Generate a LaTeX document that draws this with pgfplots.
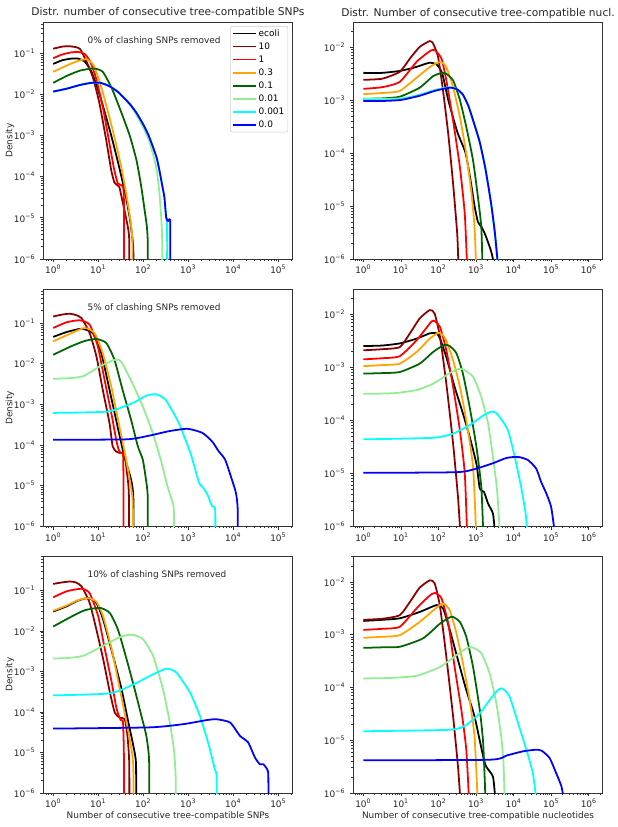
\documentclass[border=0pt]{standalone}
\usepackage{fontspec}
\setmainfont{DejaVu Sans}
\usepackage{pgfplots}
\pgfplotsset{compat=1.18}
\definecolor{dred}{HTML}{8B0000}
\definecolor{org}{HTML}{FFA500}
\definecolor{dgreen}{HTML}{006400}
\definecolor{lgreen}{HTML}{90EE90}
\definecolor{cyn}{HTML}{00FFFF}
\definecolor{blu}{HTML}{0000FF}
\newcommand\tsz{\fontsize{6.7pt}{8pt}\selectfont}
\newcommand\ttl{\fontsize{8pt}{9.6pt}\selectfont}
\newcommand\tenp[1]{10\textsuperscript{#1}}
\pgfplotsset{every axis/.append style={
  scale only axis, width=187pt, height=177.75pt, ymin=1e-6,
  axis line style={black!80, line width=0.55pt},
  tick align=outside, xtick pos=bottom, ytick pos=left,
  major tick length=2.6pt, minor tick length=1.5pt,
  tick style={black!80, line width=0.55pt},
  tick label style={font=\tsz, text=black!85},
  xticklabel style={yshift=1.5pt},
  title style={font=\ttl, at={(0.5,1)}, anchor=base, yshift=-1.5pt, inner sep=0pt, text=black!85},
  ylabel style={font=\tsz, at={(axis description cs:-0.134,0.5)}, anchor=center, text=black!85},
  xlabel style={font=\tsz, at={(axis description cs:0.5,0)}, anchor=center, yshift=-17pt, text=black!85},
 },
 every axis plot/.append style={line width=1.33pt, line join=round, mark=none, smooth, tension=0.35},
}
\begin{document}
\begin{tikzpicture}
\useasboundingbox (0,0) rectangle (462.75pt,-620.25pt);
% ---------------- Panel A ----------------
\begin{loglogaxis}[at={(32.5pt,-16.5pt)}, anchor=north west, ymax=0.575,
  xmin=0.603, xmax=2.09e5,
  xtick={1,10,100,1000,10000,100000},
  xticklabels={\tenp{0},\tenp{1},\tenp{2},\tenp{3},\tenp{4},\tenp{5}},
  minor xtick={0.7,0.8,0.9,2,3,4,5,6,7,8,9,20,30,40,50,60,70,80,90,200,300,400,500,600,700,800,900,2000,3000,4000,5000,6000,7000,8000,9000,20000,30000,40000,50000,60000,70000,80000,90000,200000},
  ytick={1e-6,1e-5,1e-4,1e-3,1e-2,1e-1},
  yticklabels={\tenp{−6},\tenp{−5},\tenp{−4},\tenp{−3},\tenp{−2},\tenp{−1}},
  minor ytick={2e-6,3e-6,4e-6,5e-6,6e-6,7e-6,8e-6,9e-6,2e-5,3e-5,4e-5,5e-5,6e-5,7e-5,8e-5,9e-5,2e-4,3e-4,4e-4,5e-4,6e-4,7e-4,8e-4,9e-4,2e-3,3e-3,4e-3,5e-3,6e-3,7e-3,8e-3,9e-3,2e-2,3e-2,4e-2,5e-2,6e-2,7e-2,8e-2,9e-2,2e-1,3e-1,4e-1,5e-1},
  ylabel={Density},
  title={Distr. number of consecutive tree-compatible SNPs},
  legend cell align=left,
  legend style={at={(0.982,0.983)}, anchor=north east, draw=black!20, fill=white, rounded corners=1.5pt,
    font=\tsz, inner xsep=1.5pt, inner ysep=1.2pt, row sep=1.5pt,
    nodes={inner sep=1.2pt, text height=4.9pt, text depth=1pt}},
]
\addplot[black] coordinates {(1,5.50e-2)(1.585,6.76e-2)(2.51,7.41e-2)(3.55,7.41e-2)(5.01,6.31e-2)(7.08,3.55e-2)(10,1.26e-2)(14.1,3.55e-3)(20,8.91e-4)(28.2,2.00e-4)(39.8,3.98e-5)(50.1,1e-5)(57.5,3.16e-6)(60.3,1.58e-6)(60.3,1e-7)};
\addplot[dred] coordinates {(1,1.29e-1)(1.585,1.45e-1)(2.29,1.48e-1)(3.16,1.41e-1)(3.98,1.26e-1)(5.37,6.61e-2)(7.59,2.63e-2)(10.7,5.89e-3)(15.1,7.59e-4)(19.5,1.41e-4)(22.9,7.24e-5)(26.3,6.31e-5)(29.5,5.62e-5)(33.1,3.16e-5)(39.8,1.26e-5)(46.8,5.01e-6)(49,2.51e-6)(49,1e-7)};
\addplot[red] coordinates {(1,7.59e-2)(1.585,9.33e-2)(2.51,1.05e-1)(3.63,1.07e-1)(5.01,9.55e-2)(6.61,6.31e-2)(8.91,2.51e-2)(12.6,5.01e-3)(17.8,6.31e-4)(22.4,1.58e-4)(26.9,7.08e-5)(31.6,6.31e-5)(35.5,5.62e-5)(37.2,2.51e-5)(37.2,1e-7)};
\addplot[org] coordinates {(1,3.55e-2)(1.585,4.47e-2)(2.51,5.62e-2)(3.98,6.76e-2)(5.62,7.08e-2)(7.94,5.01e-2)(11.2,1.78e-2)(15.8,4.47e-3)(22.4,1e-3)(31.6,2e-4)(41.7,3.98e-5)(52.5,7.94e-6)(57.5,2.51e-6)(57.5,1e-7)};
\addplot[dgreen] coordinates {(1,1.91e-2)(2,2.82e-2)(3.98,3.80e-2)(7.94,4.27e-2)(12.6,3.55e-2)(20,1.41e-2)(31.6,3.98e-3)(50.1,1e-3)(70.8,2.51e-4)(89.1,6.31e-5)(107,1.58e-5)(120,6.31e-6)(126,2.51e-6)(126,1e-7)};
\addplot[lgreen] coordinates {(1,1.17e-2)(2,1.38e-2)(3.98,1.70e-2)(7.08,1.91e-2)(11.2,1.91e-2)(17.8,1.58e-2)(28.2,1.12e-2)(50.1,5.62e-3)(70.8,3.16e-3)(100,1.58e-3)(132,7.94e-4)(166,3.55e-4)(200,1.41e-4)(229,3.98e-5)(251,1e-5)(263,3.16e-6)(263,1e-7)};
\addplot[cyn] coordinates {(1,1.17e-2)(2,1.38e-2)(3.98,1.70e-2)(7.08,1.91e-2)(11.2,1.91e-2)(17.8,1.58e-2)(28.2,1.12e-2)(50.1,5.89e-3)(70.8,3.55e-3)(100,1.86e-3)(132,1e-3)(166,5.13e-4)(200,2.82e-4)(229,1.41e-4)(263,6.31e-5)(295,3.16e-5)(324,1e-5)(339,7.94e-6)(339,1e-7)};
\addplot[blu] coordinates {(1,1.17e-2)(2,1.38e-2)(3.98,1.70e-2)(7.08,1.91e-2)(11.2,1.91e-2)(17.8,1.58e-2)(28.2,1.12e-2)(50.1,5.89e-3)(70.8,3.55e-3)(100,1.86e-3)(132,1e-3)(166,5.13e-4)(200,2.82e-4)(229,1.41e-4)(263,6.31e-5)(295,3.16e-5)(324,1e-5)(355,8.32e-6)(398,7.59e-6)(398,1e-7)};
\legend{ecoli,10,1,0.3,0.1,0.01,0.001,0.0}
\node[anchor=base west, font=\tsz, inner sep=0pt, text=black!85] at (rel axis cs:0.1765,0.909) {0\% of clashing SNPs removed};
\end{loglogaxis}
% ---------------- Panel B ----------------
\begin{loglogaxis}[at={(265pt,-16.5pt)}, anchor=north west, ymax=2.95e-2,
  xmin=0.543, xmax=2.34e6,
  xtick={1,10,100,1000,10000,100000,1000000},
  xticklabels={\tenp{0},\tenp{1},\tenp{2},\tenp{3},\tenp{4},\tenp{5},\tenp{6}},
  minor xtick={0.6,0.7,0.8,0.9,2,3,4,5,6,7,8,9,20,30,40,50,60,70,80,90,200,300,400,500,600,700,800,900,2000,3000,4000,5000,6000,7000,8000,9000,20000,30000,40000,50000,60000,70000,80000,90000,200000,300000,400000,500000,600000,700000,800000,900000,2000000},
  ytick={1e-6,1e-5,1e-4,1e-3,1e-2},
  yticklabels={\tenp{−6},\tenp{−5},\tenp{−4},\tenp{−3},\tenp{−2}},
  minor ytick={2e-6,3e-6,4e-6,5e-6,6e-6,7e-6,8e-6,9e-6,2e-5,3e-5,4e-5,5e-5,6e-5,7e-5,8e-5,9e-5,2e-4,3e-4,4e-4,5e-4,6e-4,7e-4,8e-4,9e-4,2e-3,3e-3,4e-3,5e-3,6e-3,7e-3,8e-3,9e-3,2e-2},
  title={Distr. Number of consecutive tree-compatible nucl.}]
\addplot[black] coordinates {(1,3.24e-3)(3.16,3.24e-3)(10,3.55e-3)(25.1,4.17e-3)(56.2,5.01e-3)(89.1,4.68e-3)(126,3.16e-3)(182,1e-3)(316,2.51e-4)(525,1e-4)(708,3.16e-5)(912,1e-5)(1122,5.01e-6)(1413,3.98e-6)(1778,2.82e-6)(2512,1.41e-6)(3020,7.94e-7)};
\addplot[dred] coordinates {(1,2.40e-3)(3.16,2.51e-3)(9.33,3.39e-3)(17.4,6.03e-3)(31.6,1e-2)(58.9,1.29e-2)(72.4,1.15e-2)(97.7,6.46e-3)(132,1.51e-3)(182,2.29e-4)(245,2.63e-5)(316,2.95e-6)(339,7.94e-7)};
\addplot[red] coordinates {(1,1.62e-3)(3.16,1.74e-3)(9.33,2.19e-3)(26.3,5.25e-3)(58.9,8.32e-3)(79.4,8.71e-3)(120,6.03e-3)(162,2.34e-3)(245,4.07e-4)(372,5.37e-5)(501,7.08e-6)(575,7.94e-7)};
\addplot[org] coordinates {(1,1.29e-3)(3.16,1.35e-3)(9.33,1.48e-3)(26.3,2.63e-3)(58.9,4.17e-3)(100,5.13e-3)(126,5.01e-3)(162,4.17e-3)(245,1.74e-3)(372,4.79e-4)(550,9.55e-5)(759,1.70e-5)(912,3.98e-6)(1000,7.94e-7)};
\addplot[dgreen] coordinates {(1,1.05e-3)(3.16,1.07e-3)(9.33,1.15e-3)(31.6,1.70e-3)(72.4,2.82e-3)(126,3.24e-3)(158,3.16e-3)(245,2.34e-3)(372,1e-3)(550,3.09e-4)(832,7.24e-5)(1122,1.48e-5)(1380,3.98e-6)(1479,7.94e-7)};
\addplot[lgreen] coordinates {(1,1.05e-3)(3.16,1.05e-3)(10,1.07e-3)(31.6,1.26e-3)(79.4,1.55e-3)(158,1.70e-3)(224,1.74e-3)(316,1.58e-3)(447,1.26e-3)(631,7.59e-4)(891,3.55e-4)(1259,1.58e-4)(1778,5.01e-5)(2512,1.12e-5)(3162,3.16e-6)(3802,7.94e-7)};
\addplot[cyn] coordinates {(1,1.0e-3)(3.16,1.0e-3)(10,1.03e-3)(31.6,1.23e-3)(79.4,1.51e-3)(158,1.68e-3)(224,1.72e-3)(316,1.58e-3)(447,1.26e-3)(631,7.59e-4)(891,3.55e-4)(1259,1.58e-4)(1778,5.01e-5)(2512,1.12e-5)(3162,3.16e-6)(3802,7.94e-7)};
\addplot[blu] coordinates {(1,9.55e-4)(3.16,9.55e-4)(10,1e-3)(31.6,1.20e-3)(79.4,1.48e-3)(158,1.66e-3)(224,1.70e-3)(316,1.58e-3)(447,1.26e-3)(631,7.59e-4)(891,3.55e-4)(1259,1.58e-4)(1778,5.01e-5)(2512,1.12e-5)(3162,3.16e-6)(3802,7.94e-7)};
\end{loglogaxis}
% ---------------- Panel C ----------------
\begin{loglogaxis}[at={(32.5pt,-217pt)}, anchor=north west, ymax=0.676,
  xmin=0.603, xmax=2.09e5,
  xtick={1,10,100,1000,10000,100000},
  xticklabels={\tenp{0},\tenp{1},\tenp{2},\tenp{3},\tenp{4},\tenp{5}},
  minor xtick={0.7,0.8,0.9,2,3,4,5,6,7,8,9,20,30,40,50,60,70,80,90,200,300,400,500,600,700,800,900,2000,3000,4000,5000,6000,7000,8000,9000,20000,30000,40000,50000,60000,70000,80000,90000,200000},
  ytick={1e-6,1e-5,1e-4,1e-3,1e-2,1e-1},
  yticklabels={\tenp{−6},\tenp{−5},\tenp{−4},\tenp{−3},\tenp{−2},\tenp{−1}},
  minor ytick={2e-6,3e-6,4e-6,5e-6,6e-6,7e-6,8e-6,9e-6,2e-5,3e-5,4e-5,5e-5,6e-5,7e-5,8e-5,9e-5,2e-4,3e-4,4e-4,5e-4,6e-4,7e-4,8e-4,9e-4,2e-3,3e-3,4e-3,5e-3,6e-3,7e-3,8e-3,9e-3,2e-2,3e-2,4e-2,5e-2,6e-2,7e-2,8e-2,9e-2,2e-1,3e-1,4e-1,5e-1,6e-1},
  ylabel={Density}]
\addplot[black] coordinates {(1,4.57e-2)(2,6.03e-2)(4.27,7.24e-2)(7.59,5.62e-2)(11.7,1.82e-2)(17.8,2.29e-3)(26.9,2.88e-4)(38,5.25e-5)(53.7,1.41e-5)(60.3,5.01e-6)(60.3,1e-7)};
\addplot[dred] coordinates {(1,1.45e-1)(1.585,1.62e-1)(2.34,1.70e-1)(3.16,1.58e-1)(4.27,1.32e-1)(6.46,5.62e-2)(9.12,1.51e-2)(12.6,2.29e-3)(17.8,3.47e-4)(20.9,9.33e-5)(25.1,6.92e-5)(31.6,6.31e-5)(38,6.31e-5)(42.7,2.51e-5)(47.9,6.31e-6)(47.9,1e-7)};
\addplot[red] coordinates {(1,7.59e-2)(2,1.05e-1)(3.89,1.17e-1)(6.46,9.12e-2)(9.77,2.69e-2)(13.8,4.07e-3)(19.5,6.17e-4)(25.1,1.35e-4)(28.2,7.94e-5)(31.6,6.31e-5)(35.5,6.03e-5)(36.3,1.58e-5)(36.3,1e-7)};
\addplot[org] coordinates {(1,3.55e-2)(2,5.01e-2)(5.01,7.59e-2)(8.32,5.62e-2)(12.6,1.82e-2)(19.5,2.75e-3)(29.5,2.88e-4)(41.7,4.37e-5)(56.2,6.61e-6)(58.9,2.51e-6)(58.9,1e-7)};
\addplot[dgreen] coordinates {(1,1.66e-2)(2.51,2.69e-2)(5.01,3.63e-2)(9.12,4.07e-2)(15.1,3.24e-2)(22.9,1.26e-2)(34.7,2.29e-3)(53.7,4.17e-4)(75.9,9.33e-5)(97.7,4.37e-5)(115,1.41e-5)(126,5.01e-6)(126,1e-7)};
\addplot[lgreen] coordinates {(1,4.27e-3)(2,4.37e-3)(4.57,4.90e-3)(10.7,8.51e-3)(20.9,1.20e-2)(28.2,1.26e-2)(34.7,1e-2)(57.5,3.31e-3)(97.7,8.91e-4)(162,2.00e-4)(245,4.37e-5)(347,9.55e-6)(427,4.57e-6)(479,2.51e-6)(479,1e-7)};
\addplot[cyn] coordinates {(1,6.17e-4)(3.98,6.31e-4)(17.8,6.76e-4)(57.5,1.07e-3)(115,1.62e-3)(191,1.78e-3)(316,1.29e-3)(617,3.47e-4)(1122,6.31e-5)(1738,1.17e-5)(2042,9.55e-6)(2630,6.31e-6)(3388,3.09e-6)(3981,2.51e-6)(3981,1e-7)};
\addplot[blu] coordinates {(1,1.35e-4)(41.7,1.38e-4)(135,1.70e-4)(372,2.19e-4)(955,2.51e-4)(2042,2.00e-4)(3388,1.23e-4)(4786,6.92e-5)(6607,4.37e-5)(9333,1.41e-5)(11482,6.61e-6)(12589,2.51e-6)(12589,1e-7)};
\node[anchor=base west, font=\tsz, inner sep=0pt, text=black!85] at (rel axis cs:0.1765,0.909) {5\% of clashing SNPs removed};
\end{loglogaxis}
% ---------------- Panel D ----------------
\begin{loglogaxis}[at={(265pt,-217pt)}, anchor=north west, ymax=2.95e-2,
  xmin=0.543, xmax=2.34e6,
  xtick={1,10,100,1000,10000,100000,1000000},
  xticklabels={\tenp{0},\tenp{1},\tenp{2},\tenp{3},\tenp{4},\tenp{5},\tenp{6}},
  minor xtick={0.6,0.7,0.8,0.9,2,3,4,5,6,7,8,9,20,30,40,50,60,70,80,90,200,300,400,500,600,700,800,900,2000,3000,4000,5000,6000,7000,8000,9000,20000,30000,40000,50000,60000,70000,80000,90000,200000,300000,400000,500000,600000,700000,800000,900000,2000000},
  ytick={1e-6,1e-5,1e-4,1e-3,1e-2},
  yticklabels={\tenp{−6},\tenp{−5},\tenp{−4},\tenp{−3},\tenp{−2}},
  minor ytick={2e-6,3e-6,4e-6,5e-6,6e-6,7e-6,8e-6,9e-6,2e-5,3e-5,4e-5,5e-5,6e-5,7e-5,8e-5,9e-5,2e-4,3e-4,4e-4,5e-4,6e-4,7e-4,8e-4,9e-4,2e-3,3e-3,4e-3,5e-3,6e-3,7e-3,8e-3,9e-3,2e-2}]
\addplot[black] coordinates {(1,2.51e-3)(3.16,2.57e-3)(9.33,2.82e-3)(26.3,3.47e-3)(58.9,4.37e-3)(89.1,4.37e-3)(110,3.47e-3)(162,1.55e-3)(269,4.27e-4)(447,1.35e-4)(676,4.90e-5)(1023,1.51e-5)(1259,5.13e-6)(1622,4.47e-6)(2089,2.69e-6)(2818,1.74e-6)(3162,7.94e-7)};
\addplot[dred] coordinates {(1,2.09e-3)(3.16,2.19e-3)(9.33,2.40e-3)(17.4,4.37e-3)(31.6,8.32e-3)(58.9,1.20e-2)(79.4,1.02e-2)(110,3.72e-3)(162,4.90e-4)(245,3.63e-5)(331,3.55e-6)(380,7.94e-7)};
\addplot[red] coordinates {(1,1.41e-3)(3.16,1.48e-3)(9.33,1.62e-3)(26.3,3.24e-3)(64.6,7.24e-3)(79.4,7.41e-3)(110,5.75e-3)(162,2.09e-3)(245,4.27e-4)(372,6.46e-5)(501,1e-5)(575,7.94e-7)};
\addplot[org] coordinates {(1,1.05e-3)(3.16,1.10e-3)(9.33,1.17e-3)(26.3,1.95e-3)(58.9,3.47e-3)(100,4.47e-3)(126,4.17e-3)(162,3.16e-3)(245,1.35e-3)(372,4.27e-4)(550,1e-4)(832,1.32e-5)(1000,7.94e-7)};
\addplot[dgreen] coordinates {(1,7.59e-4)(3.16,7.76e-4)(9.33,8.13e-4)(31.6,1.17e-3)(72.4,1.95e-3)(141,2.63e-3)(200,2.51e-3)(302,1.82e-3)(447,7.59e-4)(676,1.78e-4)(1023,3.16e-5)(1380,5.50e-6)(1549,7.94e-7)};
\addplot[lgreen] coordinates {(1,3.16e-4)(6.31,3.24e-4)(26.3,3.72e-4)(72.4,4.90e-4)(162,7.08e-4)(302,9.12e-4)(447,9.12e-4)(832,6.61e-4)(1380,2.75e-4)(2089,8.71e-5)(2818,2.04e-5)(3631,4.79e-6)(4266,7.94e-7)};
\addplot[cyn] coordinates {(1,4.37e-5)(72.4,4.68e-5)(245,5.62e-5)(676,8.13e-5)(1549,1.23e-4)(2512,1.45e-4)(3311,1.41e-4)(4266,1.15e-4)(7079,6.46e-5)(10715,2.04e-5)(15849,5.50e-6)(20893,1.74e-6)(22909,7.94e-7)};
\addplot[blu] coordinates {(1,1.02e-5)(302,1.05e-5)(1023,1.23e-5)(2818,1.55e-5)(6457,1.95e-5)(13183,2.04e-5)(23988,1.78e-5)(39811,1.23e-5)(53703,6.92e-6)(74131,4.17e-6)(100000,2.29e-6)(123027,7.94e-7)};
\end{loglogaxis}
% ---------------- Panel E ----------------
\begin{loglogaxis}[at={(32.5pt,-417pt)}, anchor=north west, ymax=0.708,
  xmin=0.603, xmax=2.09e5,
  xtick={1,10,100,1000,10000,100000},
  xticklabels={\tenp{0},\tenp{1},\tenp{2},\tenp{3},\tenp{4},\tenp{5}},
  minor xtick={0.7,0.8,0.9,2,3,4,5,6,7,8,9,20,30,40,50,60,70,80,90,200,300,400,500,600,700,800,900,2000,3000,4000,5000,6000,7000,8000,9000,20000,30000,40000,50000,60000,70000,80000,90000,200000},
  ytick={1e-6,1e-5,1e-4,1e-3,1e-2,1e-1},
  yticklabels={\tenp{−6},\tenp{−5},\tenp{−4},\tenp{−3},\tenp{−2},\tenp{−1}},
  minor ytick={2e-6,3e-6,4e-6,5e-6,6e-6,7e-6,8e-6,9e-6,2e-5,3e-5,4e-5,5e-5,6e-5,7e-5,8e-5,9e-5,2e-4,3e-4,4e-4,5e-4,6e-4,7e-4,8e-4,9e-4,2e-3,3e-3,4e-3,5e-3,6e-3,7e-3,8e-3,9e-3,2e-2,3e-2,4e-2,5e-2,6e-2,7e-2,8e-2,9e-2,2e-1,3e-1,4e-1,5e-1,6e-1,7e-1},
  ylabel={Density},
  xlabel={Number of consecutive tree-compatible SNPs}]
\addplot[black] coordinates {(1,3.02e-2)(2,4.07e-2)(3.55,5.62e-2)(6.03,6.46e-2)(9.12,4.90e-2)(12.9,1.91e-2)(21.4,2.40e-3)(33.1,3.63e-4)(46.8,5.50e-5)(60.3,1.45e-5)(69.2,5.01e-6)(69.2,1e-7)};
\addplot[dred] coordinates {(1,1.45e-1)(1.585,1.58e-1)(2.34,1.66e-1)(3.16,1.58e-1)(4.27,1.26e-1)(6.46,4.90e-2)(9.12,1.07e-2)(12.9,2.00e-3)(18.2,3.02e-4)(23.4,9.55e-5)(30.2,7.24e-5)(38.9,6.61e-5)(44.7,2.51e-5)(49,5.01e-6)(49,1e-7)};
\addplot[red] coordinates {(1,6.76e-2)(2,9.55e-2)(4.27,1.10e-1)(6.46,8.51e-2)(10,2.29e-2)(14.1,3.47e-3)(20,5.25e-4)(25.7,1.17e-4)(31.6,6.31e-5)(35.5,5.62e-5)(37.2,7.94e-6)(37.2,1e-7)};
\addplot[org] coordinates {(1,3.16e-2)(2,4.27e-2)(3.55,5.75e-2)(6.03,6.46e-2)(9.12,5.25e-2)(12.9,2.29e-2)(20,3.47e-3)(30.2,3.63e-4)(42.7,5.50e-5)(55,1.20e-5)(60.3,3.98e-6)(60.3,1e-7)};
\addplot[dgreen] coordinates {(1,1.29e-2)(2.51,2.24e-2)(5.01,3.24e-2)(11,3.72e-2)(18.2,2.75e-2)(27.5,1.07e-2)(42.7,2.00e-3)(64.6,3.63e-4)(91.2,7.94e-5)(117,2.57e-5)(135,6.31e-6)(135,1e-7)};
\addplot[lgreen] coordinates {(1,2.09e-3)(2,2.14e-3)(4.68,2.45e-3)(15.5,4.79e-3)(30.2,7.08e-3)(50.1,8.13e-3)(63.1,7.94e-3)(100,6.17e-3)(166,2.40e-3)(275,3.63e-4)(389,5.50e-5)(479,1.20e-5)(525,2.51e-6)(525,1e-7)};
\addplot[cyn] coordinates {(1,2.57e-4)(18.2,2.88e-4)(60.3,4.79e-4)(141,7.76e-4)(282,1.12e-3)(355,1.17e-3)(550,9.33e-4)(1096,3.02e-4)(1820,7.94e-5)(2754,1.78e-5)(3890,3.89e-6)(4266,2.51e-6)(4266,1e-7)};
\addplot[blu] coordinates {(1,3.89e-5)(141,4.17e-5)(776,5.01e-5)(2570,6.31e-5)(4266,6.61e-5)(8511,5.50e-5)(14125,2.57e-5)(21380,1.78e-5)(30200,7.59e-6)(38905,5.13e-6)(46774,5.13e-6)(57544,3.72e-6)(60256,2.51e-6)(60256,1e-7)};
\node[anchor=base west, font=\tsz, inner sep=0pt, text=black!85] at (rel axis cs:0.1765,0.909) {10\% of clashing SNPs removed};
\end{loglogaxis}
% ---------------- Panel F ----------------
\begin{loglogaxis}[at={(265pt,-417pt)}, anchor=north west, ymax=3.09e-2,
  xmin=0.543, xmax=2.34e6,
  xtick={1,10,100,1000,10000,100000,1000000},
  xticklabels={\tenp{0},\tenp{1},\tenp{2},\tenp{3},\tenp{4},\tenp{5},\tenp{6}},
  minor xtick={0.6,0.7,0.8,0.9,2,3,4,5,6,7,8,9,20,30,40,50,60,70,80,90,200,300,400,500,600,700,800,900,2000,3000,4000,5000,6000,7000,8000,9000,20000,30000,40000,50000,60000,70000,80000,90000,200000,300000,400000,500000,600000,700000,800000,900000,2000000},
  ytick={1e-6,1e-5,1e-4,1e-3,1e-2},
  yticklabels={\tenp{−6},\tenp{−5},\tenp{−4},\tenp{−3},\tenp{−2}},
  minor ytick={2e-6,3e-6,4e-6,5e-6,6e-6,7e-6,8e-6,9e-6,2e-5,3e-5,4e-5,5e-5,6e-5,7e-5,8e-5,9e-5,2e-4,3e-4,4e-4,5e-4,6e-4,7e-4,8e-4,9e-4,2e-3,3e-3,4e-3,5e-3,6e-3,7e-3,8e-3,9e-3,2e-2,3e-2},
  xlabel={Number of consecutive tree-compatible nucleotides}]
\addplot[black] coordinates {(1,1.82e-3)(3.16,1.91e-3)(9.33,2.04e-3)(31.6,2.69e-3)(89.1,3.63e-3)(132,3.16e-3)(200,1.23e-3)(331,3.31e-4)(550,8.91e-5)(912,2.82e-5)(1549,4.90e-6)(1862,3.16e-6)(2818,2.04e-6)(3236,7.94e-7)};
\addplot[dred] coordinates {(1,1.91e-3)(3.16,2.00e-3)(9.33,2.34e-3)(17.4,4.17e-3)(31.6,7.76e-3)(58.9,1.07e-2)(79.4,9.33e-3)(110,3.39e-3)(162,3.80e-4)(245,2.82e-5)(331,3.16e-6)(380,7.94e-7)};
\addplot[red] coordinates {(1,1.23e-3)(3.16,1.29e-3)(9.33,1.41e-3)(26.3,3.16e-3)(56.2,5.37e-3)(79.4,6.17e-3)(120,4.90e-3)(182,1.62e-3)(269,2.45e-4)(407,3.72e-5)(550,6.61e-6)(646,7.94e-7)};
\addplot[org] coordinates {(1,8.71e-4)(3.16,9.12e-4)(9.33,9.77e-4)(31.6,1.74e-3)(72.4,2.88e-3)(132,3.89e-3)(200,2.88e-3)(302,1.05e-3)(447,2.88e-4)(676,5.75e-5)(912,1.17e-5)(1096,7.94e-7)};
\addplot[dgreen] coordinates {(1,5.62e-4)(3.16,5.75e-4)(9.33,5.89e-4)(38.9,8.51e-4)(110,1.62e-3)(224,2.19e-3)(372,1.74e-3)(550,9.12e-4)(832,2.45e-4)(1259,3.72e-5)(1549,8.71e-6)(1778,7.94e-7)};
\addplot[lgreen] coordinates {(1,1.48e-4)(5.01,1.51e-4)(26.3,1.66e-4)(110,2.45e-4)(302,4.07e-4)(550,5.50e-4)(794,5.75e-4)(1380,4.47e-4)(2291,1.86e-4)(3467,5.01e-5)(4677,1.17e-5)(5370,3.72e-6)(5754,7.94e-7)};
\addplot[cyn] coordinates {(1,1.48e-5)(200,1.58e-5)(550,1.95e-5)(1259,3.24e-5)(2291,5.75e-5)(3802,8.91e-5)(5012,9.55e-5)(7762,6.76e-5)(13183,2.09e-5)(21878,6.61e-6)(32359,2.40e-6)(39811,7.94e-7)};
\addplot[blu] coordinates {(1,4.17e-6)(2291,4.27e-6)(6457,5.13e-6)(17783,6.17e-6)(39811,6.61e-6)(56234,6.31e-6)(91201,4.57e-6)(134896,2.40e-6)(186209,1.35e-6)(213796,7.94e-7)};
\end{loglogaxis}
\end{tikzpicture}
\end{document}
